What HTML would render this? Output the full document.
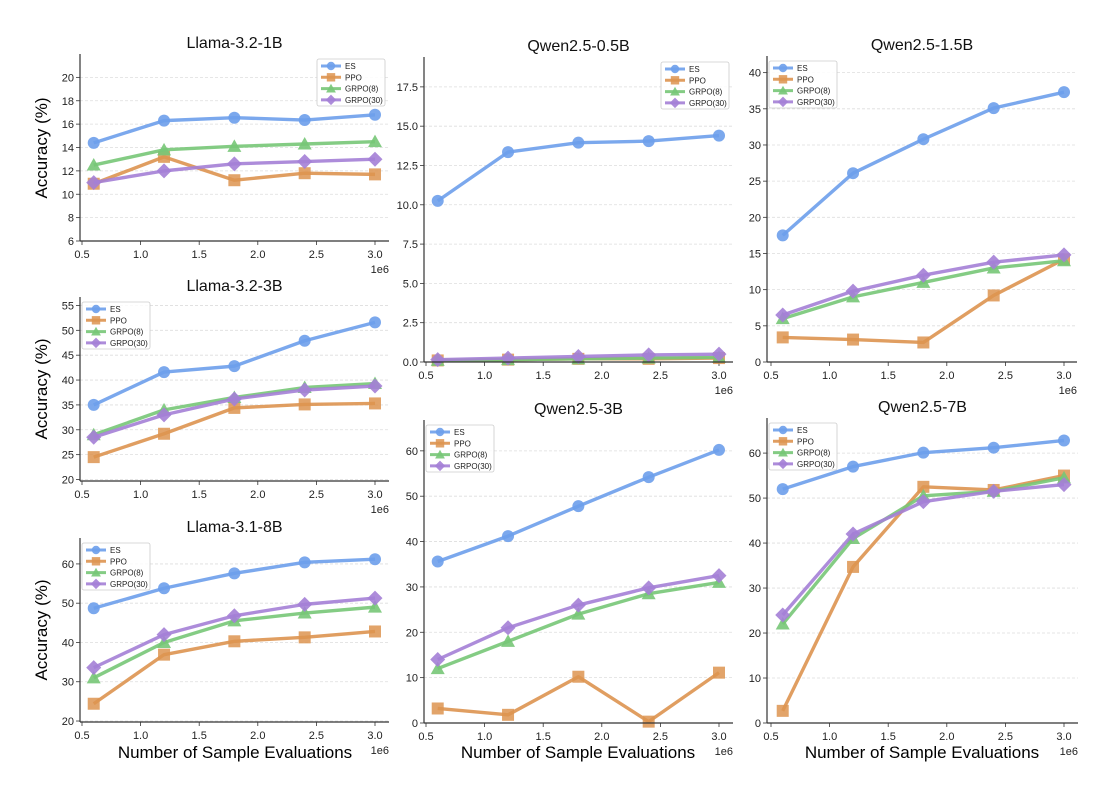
<!DOCTYPE html>
<html><head><meta charset="utf-8"><style>
html,body{margin:0;padding:0;background:#fff;}
svg{display:block;font-family:"Liberation Sans",Arial,sans-serif;}
</style></head><body>
<svg id="s" width="1111" height="792" viewBox="0 0 1111 792" xmlns="http://www.w3.org/2000/svg">
<text x="47" y="148" font-size="17" text-anchor="middle" transform="rotate(-90 47 148)">Accuracy (%)</text>
<text x="47" y="389" font-size="17" text-anchor="middle" transform="rotate(-90 47 389)">Accuracy (%)</text>
<text x="47" y="630" font-size="17" text-anchor="middle" transform="rotate(-90 47 630)">Accuracy (%)</text>
<text x="235" y="758" font-size="17" text-anchor="middle">Number of Sample Evaluations</text>
<text x="578" y="758" font-size="17" text-anchor="middle">Number of Sample Evaluations</text>
<text x="922" y="758" font-size="17" text-anchor="middle">Number of Sample Evaluations</text>
</svg>
<script>
var S=document.getElementById('s'),NS='http://www.w3.org/2000/svg';
function el(t,a,txt){var e=document.createElementNS(NS,t);for(var k in a)e.setAttribute(k,a[k]);if(txt!=null)e.textContent=txt;S.appendChild(e);return e;}
var C=['#6d9eeb','#dd9450','#77c777','#a47fd6'];
var N=['ES','PPO','GRPO(8)','GRPO(30)'];
var X=[0.6,1.2,1.8,2.4,3.0];
var P=[
{t:'Llama-3.2-1B',x0:80,x1:389,xo:82,yt:54,yb:241,mn:6,mx:22,ticks:[6,8,10,12,14,16,18,20],dec:0,leg:'r',
d:[[14.4,16.3,16.55,16.35,16.8],[10.9,13.2,11.2,11.8,11.7],[12.5,13.8,14.1,14.3,14.5],[11,12,12.6,12.8,13]]},
{t:'Llama-3.2-3B',x0:80,x1:389,xo:82,yt:297,yb:481,mn:19.7,mx:56.7,ticks:[20,25,30,35,40,45,50,55],dec:0,leg:'l',
d:[[35,41.6,42.8,47.9,51.6],[24.5,29.2,34.4,35.1,35.3],[29,34,36.5,38.5,39.3],[28.5,33,36.2,38,38.8]]},
{t:'Llama-3.1-8B',x0:80,x1:389,xo:82,yt:538,yb:722,mn:19.75,mx:66.6,ticks:[20,30,40,50,60],dec:0,leg:'l',
d:[[48.7,53.8,57.6,60.4,61.2],[24.4,36.9,40.3,41.3,42.8],[31,40,45.5,47.5,49],[33.6,42,46.8,49.7,51.3]]},
{t:'Qwen2.5-0.5B',x0:424,x1:733,xo:426,yt:57,yb:362,mn:0,mx:19.4,ticks:[0,2.5,5,7.5,10,12.5,15,17.5],dec:1,leg:'r',
d:[[10.25,13.35,13.95,14.05,14.4],[0.1,0.15,0.2,0.2,0.25],[0.1,0.15,0.2,0.25,0.3],[0.15,0.25,0.35,0.45,0.5]]},
{t:'Qwen2.5-1.5B',x0:767,x1:1077,xo:771,yt:56,yb:362,mn:0,mx:42.3,ticks:[0,5,10,15,20,25,30,35,40],dec:0,leg:'l',
d:[[17.5,26.1,30.8,35.1,37.3],[3.4,3.1,2.7,9.2,14.2],[6,9,11,13,14],[6.5,9.8,12,13.8,14.8]]},
{t:'Qwen2.5-3B',x0:424,x1:733,xo:426,yt:420,yb:723,mn:0,mx:66.8,ticks:[0,10,20,30,40,50,60],dec:0,leg:'l',
d:[[35.6,41.2,47.8,54.2,60.2],[3.2,1.8,10.2,0.3,11.1],[12,18,24,28.5,31],[14,21,26,29.8,32.5]]},
{t:'Qwen2.5-7B',x0:767,x1:1078,xo:771,yt:418,yb:723,mn:0,mx:67.8,ticks:[0,10,20,30,40,50,60],dec:0,leg:'l',
d:[[52,57,60.1,61.2,62.8],[2.7,34.7,52.5,51.8,55],[22,41,50.5,51.5,54.5],[24,42,49.2,51.5,53]]}
];
function marker(i,x,y,s){
 var c=C[i];
 if(i==0)el('circle',{cx:x,cy:y,r:6*s,fill:c,'fill-opacity':0.9});
 else if(i==1)el('rect',{x:x-6*s,y:y-6*s,width:12*s,height:12*s,fill:c,'fill-opacity':0.85});
 else if(i==2)el('polygon',{points:(x)+','+(y-7*s)+' '+(x+7*s)+','+(y+5.5*s)+' '+(x-7*s)+','+(y+5.5*s),fill:c,'fill-opacity':0.9});
 else el('polygon',{points:x+','+(y-7.5*s)+' '+(x+7.5*s)+','+y+' '+x+','+(y+7.5*s)+' '+(x-7.5*s)+','+y,fill:c,'fill-opacity':0.9});
}
P.forEach(function(p){
 var fx=function(v){return p.xo+(v-0.5)*117.2;};
 var fy=function(v){return p.yb-(v-p.mn)/(p.mx-p.mn)*(p.yb-p.yt);};
 p.ticks.forEach(function(t){var y=fy(t);
  el('line',{x1:p.x0,x2:p.x1,y1:y,y2:y,stroke:'#ddd','stroke-width':0.8,'stroke-dasharray':'3,2'});
  el('line',{x1:p.x0-4,x2:p.x0,y1:y,y2:y,stroke:'#333','stroke-width':0.8});
  el('text',{x:p.x0-6,y:y+4,'font-size':11,'text-anchor':'end',fill:'#222'},p.dec?t.toFixed(1):String(t));
 });
 [0.5,1,1.5,2,2.5,3].forEach(function(t){var x=fx(t);
  el('line',{x1:x,x2:x,y1:p.yb,y2:p.yb+4,stroke:'#333','stroke-width':0.8});
  el('text',{x:x,y:p.yb+17,'font-size':11,'text-anchor':'middle',fill:'#222'},t.toFixed(1));
 });
 el('text',{x:p.x1,y:p.yb+32,'font-size':11,'text-anchor':'end',fill:'#222'},'1e6');
 el('text',{x:(p.x0+p.x1)/2,y:p.yt-6,'font-size':16,'text-anchor':'middle',fill:'#111'},p.t);
 p.d.forEach(function(s,i){
  el('polyline',{points:s.map(function(v,j){return fx(X[j])+','+fy(v);}).join(' '),fill:'none',stroke:C[i],'stroke-width':3.4,'stroke-opacity':0.9,'stroke-linejoin':'round'});
  s.forEach(function(v,j){marker(i,fx(X[j]),fy(v),1);});
 });
 el('line',{x1:p.x0,x2:p.x0,y1:p.yt,y2:p.yb,stroke:'#333','stroke-width':1.2});
 el('line',{x1:p.x0,x2:p.x1,y1:p.yb,y2:p.yb,stroke:'#333','stroke-width':1.2});
 var lx=p.leg=='r'?p.x1-72:p.x0+2,ly=p.yt+5;
 el('rect',{x:lx,y:ly,width:68,height:47,fill:'#fff','fill-opacity':0.85,stroke:'#ccc','stroke-width':0.8,rx:2});
 N.forEach(function(n,i){var yy=ly+7+i*11.3;
  el('line',{x1:lx+4,x2:lx+24,y1:yy,y2:yy,stroke:C[i],'stroke-width':3,'stroke-opacity':0.9});
  marker(i,lx+14,yy,0.7);
  el('text',{x:lx+28,y:yy+3,'font-size':8,fill:'#222'},n);
 });
});
</script>
</body></html>
